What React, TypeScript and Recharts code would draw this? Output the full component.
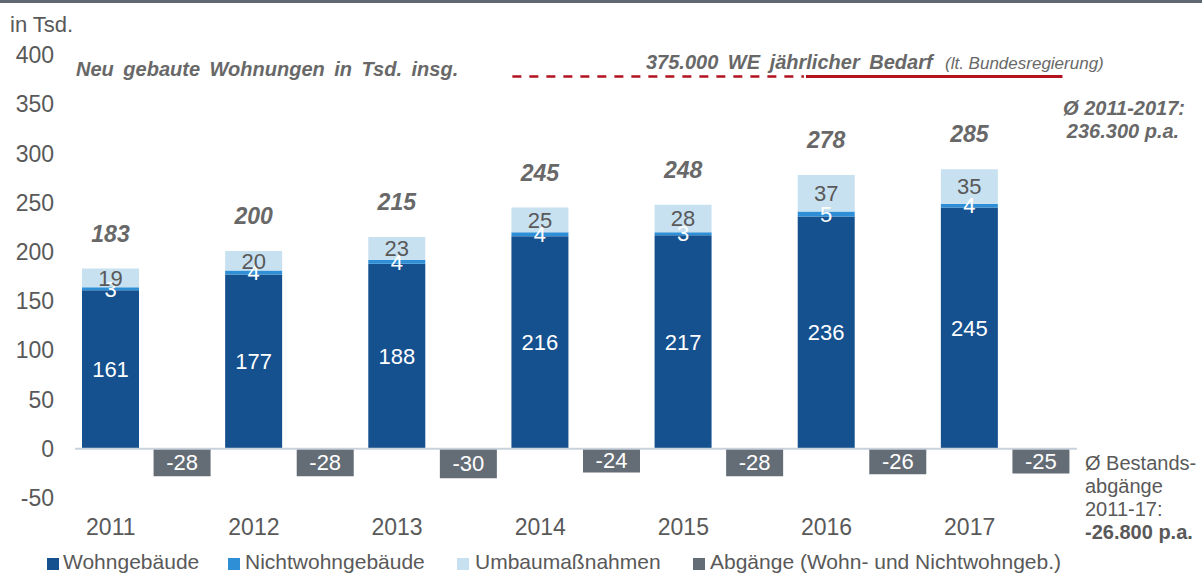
import React from 'react';
import { BarChart, Bar, XAxis, YAxis, ReferenceLine, LabelList, Legend } from 'recharts';

const years = ['2011', '2012', '2013', '2014', '2015', '2016', '2017'];
const wohngebaeude = [161, 177, 188, 216, 217, 236, 245];
const nichtwohngebaeude = [3, 4, 4, 4, 3, 5, 4];
const umbaumassnahmen = [19, 20, 23, 25, 28, 37, 35];
const abgaenge = [-28, -28, -30, -24, -28, -26, -25];
const totals = [183, 200, 215, 245, 248, 278, 285];
const yTicks = [-50, 0, 50, 100, 150, 200, 250, 300, 350, 400];
const bedarf = 375;

const FONT = '"Liberation Sans", Arial, sans-serif';
const TEXT = '#595959';
const NOTE = '#686868';
const C = {
  wohn: '#15508f',
  nicht: '#2f8fd6',
  umbau: '#c8e1f0',
  abg: '#646c76',
  red: '#b3121f',
  zero: '#c9d2dc',
};

const data = years.flatMap((y, i) => [
  { key: y, wohn: wohngebaeude[i], nichtwohn: nichtwohngebaeude[i], umbau: umbaumassnahmen[i], total: totals[i] },
  { key: y + '-abg', abg: abgaenge[i] },
]);

const legendItems = [
  { label: 'Wohngebäude', color: C.wohn, x: 47, tx: 63 },
  { label: 'Nichtwohngebäude', color: C.nicht, x: 228, tx: 245 },
  { label: 'Umbaumaßnahmen', color: C.umbau, x: 457, tx: 475 },
  { label: 'Abgänge (Wohn- und Nichtwohngeb.)', color: C.abg, x: 693, tx: 710 },
];

const YearTick = (props: any) => {
  const { x, y, payload } = props;
  if (!years.includes(payload.value)) return null;
  return (
    <text x={x} y={y} dy={37} textAnchor="middle" fill={TEXT} fontSize={23} fontFamily={FONT}>
      {payload.value}
    </text>
  );
};

const TotalLabel = (props: any) => {
  const { x, y, width, value } = props;
  if (value === undefined || value === null) return null;
  return (
    <text
      x={x + width / 2}
      y={y - 27}
      textAnchor="middle"
      fill={NOTE}
      fontSize={23}
      fontWeight="bold"
      fontStyle="italic"
      fontFamily={FONT}
    >
      {value}
    </text>
  );
};

const BedarfLine = (props: any) => {
  const { x1, x2, y1 } = props;
  const w = x2 - x1;
  const a = x1 + w * 0.4365;
  const b = x1 + w * 0.7275;
  const c = x1 + w * 0.9855;
  return (
    <g>
      <line x1={a} x2={b} y1={y1 - 3} y2={y1 - 3} stroke={C.red} strokeWidth={2.5} strokeDasharray="9 8" />
      <line x1={b + 2} x2={c} y1={y1 - 3} y2={y1 - 3} stroke={C.red} strokeWidth={3} />
    </g>
  );
};

const LegendContent = () => (
  <div style={{ position: 'relative', height: 26, width: 1100 }}>
    {legendItems.map((it) => (
      <React.Fragment key={it.label}>
        <div
          style={{
            position: 'absolute',
            left: it.x,
            top: 10,
            width: 12,
            height: 12,
            background: it.color,
          }}
        />
        <div
          style={{
            position: 'absolute',
            left: it.tx,
            top: 1,
            lineHeight: '26px',
            fontSize: 21,
            fontFamily: FONT,
            color: TEXT,
            whiteSpace: 'nowrap',
          }}
        >
          {it.label}
        </div>
      </React.Fragment>
    ))}
  </div>
);

export default function App() {
  return (
    <div style={{ position: 'absolute', left: 0, top: 0, width: 1202, height: 574, background: '#fff', overflow: 'hidden' }}>
      <div style={{ position: 'absolute', left: 0, top: 0, width: 1202, height: 3, background: '#5f6770' }} />
      <BarChart
        width={1202}
        height={574}
        data={data}
        margin={{ top: 55, right: 125, left: 0, bottom: 0 }}
        barSize={57}
      >
        <XAxis
          dataKey="key"
          interval={0}
          axisLine={false}
          tickLine={false}
          tickSize={0}
          tickMargin={0}
          height={50}
          tick={<YearTick />}
        />
        <YAxis
          domain={[-50, 400]}
          ticks={yTicks}
          axisLine={false}
          tickLine={false}
          tickSize={0}
          tickMargin={21}
          width={75}
          tick={{ fill: TEXT, fontSize: 23, fontFamily: FONT }}
        />
        <Legend verticalAlign="bottom" content={<LegendContent />} />
        <ReferenceLine y={0} stroke={C.zero} strokeWidth={2} />
        <ReferenceLine y={bedarf} ifOverflow="visible" shape={BedarfLine} />
        <Bar dataKey="wohn" stackId="a" fill={C.wohn} isAnimationActive={false}>
          <LabelList dataKey="wohn" position="center" fill="#ffffff" fontSize={22} fontFamily={FONT} />
        </Bar>
        <Bar dataKey="nichtwohn" stackId="a" fill={C.nicht} isAnimationActive={false}>
          <LabelList dataKey="nichtwohn" position="center" fill="#ffffff" fontSize={22} fontFamily={FONT} />
        </Bar>
        <Bar dataKey="umbau" stackId="a" fill={C.umbau} isAnimationActive={false}>
          <LabelList dataKey="umbau" position="center" fill={TEXT} fontSize={22} fontFamily={FONT} />
          <LabelList dataKey="total" content={<TotalLabel />} />
        </Bar>
        <Bar dataKey="abg" stackId="a" fill={C.abg} isAnimationActive={false}>
          <LabelList dataKey="abg" position="center" fill="#ffffff" fontSize={22} fontFamily={FONT} />
        </Bar>
      </BarChart>
      <svg
        width={1202}
        height={574}
        style={{ position: 'absolute', left: 0, top: 0, pointerEvents: 'none' }}
        fontFamily={FONT}
      >
        <text x={10} y={32} fontSize={22} fill={TEXT}>in Tsd.</text>
        <text x={76} y={76} fontSize={20} fontWeight="bold" fontStyle="italic" fill={NOTE} style={{ wordSpacing: 4 }}>
          Neu gebaute Wohnungen in Tsd. insg.
        </text>
        <text x={646} y={69} fontSize={20} fontWeight="bold" fontStyle="italic" fill={NOTE} style={{ wordSpacing: 4 }}>
          375.000 WE jährlicher Bedarf
        </text>
        <text x={945} y={69} fontSize={17} fontStyle="italic" fill={NOTE}>(lt. Bundesregierung)</text>
        <text x={1124} y={115} textAnchor="middle" fontSize={20} fontWeight="bold" fontStyle="italic" fill={NOTE}>
          Ø 2011-2017:
        </text>
        <text x={1123} y={138} textAnchor="middle" fontSize={20} fontWeight="bold" fontStyle="italic" fill={NOTE}>
          236.300 p.a.
        </text>
        <text x={1085} y={470} fontSize={20} fill={TEXT}>Ø Bestands-</text>
        <text x={1085} y={493} fontSize={20} fill={TEXT}>abgänge</text>
        <text x={1085} y={516} fontSize={20} fill={TEXT}>2011-17:</text>
        <text x={1085} y={539} fontSize={20} fontWeight="bold" fill={TEXT}>-26.800 p.a.</text>
      </svg>
    </div>
  );
}
